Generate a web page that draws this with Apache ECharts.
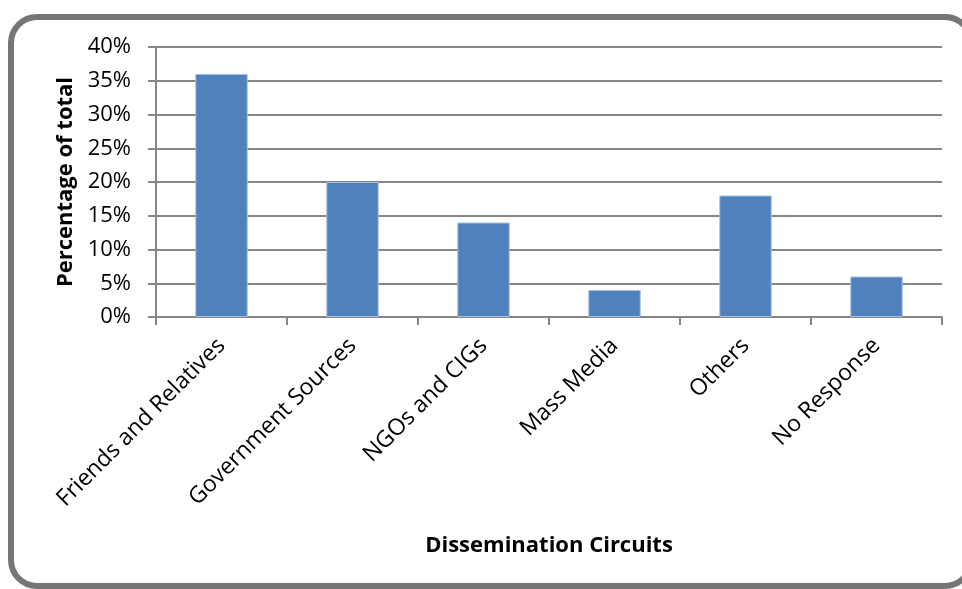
<!DOCTYPE html>
<html>
<head>
<meta charset="utf-8">
<script src="https://cdn.jsdelivr.net/npm/echarts@6/dist/echarts.min.js"></script>
<style>
  html, body { margin: 0; padding: 0; background: #ffffff; }
  #chart { width: 962px; height: 589px; }
</style>
</head>
<body>
<div id="chart"></div>
<script>
// Share of respondents by dissemination circuit (percent)
var categories = ['Friends and Relatives', 'Government Sources', 'NGOs and CIGs', 'Mass Media', 'Others', 'No Response'];
var shares = [36, 20, 14, 4, 18, 6];
var yTicks = { min: 0, max: 40, interval: 5 };
var xTitle = 'Dissemination Circuits';
var yTitle = 'Percentage of total';

var FONT = '"Open Sans"';
var chart = echarts.init(document.getElementById('chart'), null, { renderer: 'canvas' });

chart.setOption({
  backgroundColor: '#ffffff',
  animation: false,
  textStyle: { fontFamily: FONT },
  graphic: [{
    type: 'rect',
    shape: { x: 11, y: 17, width: 960, height: 569, r: 26 },
    style: { fill: 'none', stroke: '#767676', lineWidth: 6 },
    z: 0
  }],
  grid: { left: 156, right: 20, top: 47, bottom: 272, containLabel: false },
  xAxis: {
    type: 'category',
    data: categories,
    name: xTitle,
    nameLocation: 'middle',
    nameGap: 218,
    nameTextStyle: { fontFamily: FONT, fontSize: 22, fontWeight: 'bold', color: '#000' },
    axisLine: { lineStyle: { color: '#868686', width: 2 } },
    axisTick: { show: true, length: 8, lineStyle: { color: '#868686', width: 2 } },
    axisLabel: { rotate: 45, margin: 25, fontSize: 23, color: '#000', fontFamily: FONT, interval: 0 },
    splitLine: { show: false }
  },
  yAxis: {
    type: 'value',
    min: yTicks.min, max: yTicks.max, interval: yTicks.interval,
    name: yTitle,
    nameLocation: 'middle',
    nameGap: 79,
    nameTextStyle: { fontFamily: FONT, fontSize: 22, fontWeight: 'bold', color: '#000' },
    axisLine: { show: true, lineStyle: { color: '#868686', width: 2 } },
    axisTick: { show: true, length: 8, lineStyle: { color: '#868686', width: 2 } },
    axisLabel: { formatter: '{value}%', margin: 25, fontSize: 22, color: '#000', fontFamily: FONT },
    splitLine: { show: true, lineStyle: { color: '#868686', width: 2 } }
  },
  series: [{
    type: 'bar',
    data: shares,
    barWidth: '40%',
    itemStyle: { color: '#4F81BD', borderColor: '#A7BFDE', borderWidth: 1 }
  }]
});
</script>
</body>
</html>
